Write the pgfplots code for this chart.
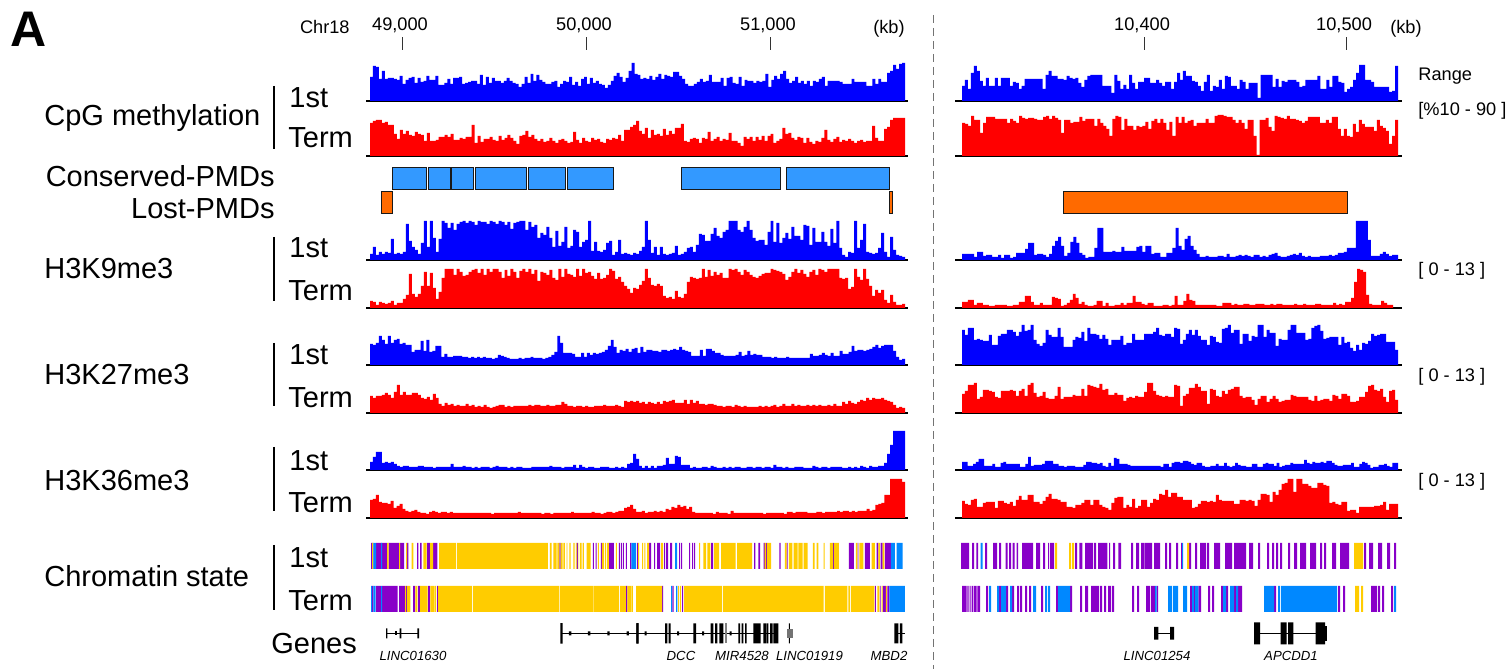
\documentclass[border=0pt]{standalone}
\usepackage{pgfplots}
\pgfplotsset{compat=1.18}
\usepackage{fontspec}
\setmainfont{Liberation Sans}
\definecolor{cpur}{HTML}{8800C8}
\definecolor{cyel}{HTML}{FFCC00}
\definecolor{cblu}{HTML}{0088FF}
\definecolor{pblu}{HTML}{3399FF}
\definecolor{pora}{HTML}{FF6A00}
\pgfplotsset{
 leftp/.style={xmin=366,xmax=908,width=271pt},
 rightp/.style={xmin=955,xmax=1402,width=223.5pt},
 trk/.style={scale only axis,height=21pt,ymin=0,ymax=42,axis y line=none,axis x line=bottom,
   xtick=\empty,axis line style={-,line width=0.7pt,black},anchor=south west,clip=false},
}
\newcommand\trackL[5]{\maketrack{leftp}{366}{#1}{#2}{#3}{#4}{#5}}
\newcommand\trackR[5]{\maketrack{rightp}{955}{#1}{#2}{#3}{#4}{#5}}
\newcommand\maketrack[7]{%
 \begin{axis}[trk,#1,at={({#2*0.5pt},{(669-#5)*0.5pt})}]
 \foreach \v [count=\n] in {#7}{\xdef\nbins{\n}\xdef\lastv{\v}}%
 \pgfmathsetmacro\binw{(#4-#3)/\nbins}%
 \xdef\binw{\binw}%
 \xdef\coordlist{(#3,0)}%
 \foreach \v [count=\n from 0] in {#7}{%
   \pgfmathsetmacro\xx{#3+\n*\binw}%
   \xdef\coordlist{\coordlist(\xx,\v)}}%
 \edef\tmp{\noexpand\addplot[const plot,fill=#6,draw=none] coordinates {\coordlist(#4,\lastv)(#4,0)};}\tmp
 \end{axis}}
% filled pulses, separated by jumps
\newcommand\seg[2]{%
 \xdef\coordlist{}%
 \foreach \a/\b in {#2}{\xdef\coordlist{\coordlist(\a,0)(\a,1)(\b,1)(\b,0)(\b,nan)}}%
 \edef\tmp{\noexpand\addplot[fill=#1,draw=none,unbounded coords=jump] coordinates {\coordlist};}\tmp}
\newcommand\exons[3][black]{%
 \xdef\coordlist{}%
 \foreach \a/\b in {#3}{\xdef\coordlist{\coordlist(\a,-#2)(\a,#2)(\b,#2)(\b,-#2)(\b,nan)}}%
 \edef\tmp{\noexpand\addplot[fill=#1,draw=none,unbounded coords=jump] coordinates {\coordlist};}\tmp}
\newcommand\intron[2]{\addplot[black,line width=0.55pt] coordinates {(#1,0)(#2,0)};}
\newcommand\pmd[3]{\addplot[fill=#1,draw=black!90,line width=0.5pt] coordinates {(#2,0)(#2,1)(#3,1)(#3,0)} -- cycle;}
\newenvironment{zoomaxis}[5]{%
 \begin{axis}[scale only axis,hide axis,anchor=south west,clip=false,
  at={({#1*0.5pt},{(669-#4)*0.5pt})},width={#2*0.5pt},height={(#4-#3)*0.5pt},
  xmin=0,xmax={3*#2},#5]}{\end{axis}}
\newcommand\lab[5]{\node[anchor=#3,inner sep=0pt,text=black] at ({#1*0.5pt},{(669-#2)*0.5pt}) {\fontsize{#4}{#4}\selectfont #5};}
\newcommand\vb[3]{\draw[black,line width=0.55pt] ({#1*0.5pt},{(669-#2)*0.5pt}) -- ({#1*0.5pt},{(669-#3)*0.5pt});}
\pgfplotsset{hdr/.style={scale only axis,anchor=south west,height=1pt,ymin=0,ymax=1,ytick=\empty,
 axis line style={draw=none},tick align=outside,xtick pos=upper,xticklabel pos=upper,scaled x ticks=false,
 major tick length=6.5pt,tick style={black!80,line width=0.5pt},
 /pgf/number format/assume math mode=true,/pgf/number format/1000 sep={,},
 xticklabel style={font=\fontsize{9.1pt}{9.1pt}\selectfont,xshift=-1pt,yshift=-1.5pt}}}
\begin{document}
\begin{tikzpicture}[x=1pt,y=1pt]
\path[use as bounding box] (0,0) rectangle (755pt,334.5pt);
% ---------- header axes
\begin{axis}[hdr,at={(183pt,{(669-52)*0.5pt})},width=271pt,xmin=48804.35,xmax=51750,xtick={49000,50000,51000}]
\end{axis}
\begin{axis}[hdr,at={(477.5pt,{(669-52)*0.5pt})},width=223.5pt,xmin=10306.4,xmax=10527.7,xtick={10400,10500}]
\end{axis}
% ---------- CpG methylation
\trackL{370}{905}{101}{blue}{24,35,34,22,30,22,23,23,22,21,25,17,21,23,24,18,23,19,20,25,21,21,25,16,16,18,22,17,23,23,24,17,18,19,20,20,17,26,16,24,18,23,20,20,18,20,23,20,18,17,14,17,24,18,27,20,26,21,19,17,17,19,20,14,17,20,19,24,16,19,15,22,24,17,23,18,20,17,16,13,16,20,25,28,24,19,23,30,38,27,26,22,23,22,25,21,24,27,22,26,25,24,29,29,25,22,17,15,15,17,19,22,19,20,26,19,19,19,23,15,23,24,18,17,24,15,21,20,20,18,20,19,20,27,14,21,25,22,27,30,22,18,20,24,18,20,17,20,15,20,19,22,24,15,20,20,20,20,19,17,17,17,22,19,19,19,19,15,15,22,17,22,19,19,28,30,36,32,37,38}
\trackL{370}{905}{156}{red}{33,35,36,36,33,34,31,31,22,17,26,22,25,21,20,24,22,21,15,23,15,15,16,19,19,21,19,22,16,16,18,17,19,19,31,13,20,14,17,17,19,16,15,20,16,18,21,18,15,12,20,21,25,19,21,17,15,17,14,15,18,15,13,16,17,15,13,14,24,16,13,18,15,14,18,16,17,14,13,17,16,18,17,21,15,26,26,29,31,35,25,22,28,18,26,21,22,20,27,21,25,22,28,28,32,15,14,17,18,17,13,18,17,24,15,17,19,15,17,16,23,15,15,13,10,19,17,19,15,19,16,20,15,20,22,13,15,17,28,22,23,18,16,19,18,13,18,14,12,15,14,18,26,16,14,17,19,14,16,15,17,15,13,15,16,14,15,15,30,18,15,15,27,29,36,38,38,38,38}
\trackR{962}{1398}{101}{blue}{15,21,12,28,35,30,20,15,23,15,15,23,15,23,23,23,15,19,18,12,15,22,22,22,22,22,22,12,26,30,25,25,22,22,21,25,23,22,23,18,14,21,25,26,26,26,26,15,15,15,8,26,20,12,16,12,26,18,12,19,19,23,23,18,18,21,18,15,19,19,12,19,28,21,30,25,25,20,19,15,10,19,26,10,15,14,21,12,25,24,15,15,12,21,19,12,18,18,18,3,26,26,26,26,14,22,14,20,19,21,21,21,19,14,15,21,21,21,21,25,12,12,21,14,25,25,19,18,9,12,14,21,28,36,36,21,21,19,14,14,14,14,14,9,10,35}
\trackR{962}{1398}{156}{red}{33,32,30,40,36,36,23,33,39,39,39,37,37,37,37,33,37,35,33,40,38,37,38,38,37,36,36,39,40,37,40,38,36,23,36,36,33,34,34,39,35,37,37,37,30,37,33,30,27,20,37,40,39,26,37,30,30,26,30,29,30,34,27,35,37,33,37,33,26,34,20,39,33,39,33,35,36,30,33,33,33,37,33,33,40,41,41,40,39,39,36,33,36,33,27,36,36,20,1,36,36,38,29,25,40,39,38,37,40,37,37,36,35,33,35,39,39,39,39,33,33,36,33,39,39,27,20,27,20,19,32,24,36,32,29,29,29,25,36,30,28,25,12,20,36}
% ---------- H3K9me3
\trackL{370}{905}{260}{blue}{6,13,5,8,6,8,7,21,6,7,6,8,36,19,13,10,6,17,39,13,39,22,8,21,39,37,32,37,30,36,38,39,37,39,38,35,39,38,38,36,39,38,36,39,38,35,38,31,37,38,39,39,30,38,33,35,22,27,25,33,22,13,29,14,18,33,12,14,30,28,13,18,20,39,9,18,9,8,10,17,19,5,8,20,6,7,6,5,7,6,9,13,39,20,7,13,5,13,6,5,6,7,14,5,6,8,12,13,8,15,26,25,19,19,26,32,24,22,28,30,39,39,39,30,28,33,39,30,22,19,20,20,15,28,39,18,37,17,22,27,21,33,24,24,20,35,34,15,32,18,18,28,18,14,31,17,39,12,5,3,8,7,39,12,20,36,8,7,6,7,12,27,8,3,23,10,5,4,3}
\trackL{370}{905}{308}{red}{7,6,3,6,5,4,5,7,3,5,5,9,13,34,14,11,14,22,36,22,35,20,9,16,30,39,39,39,33,39,36,32,33,36,38,39,35,39,33,39,36,39,39,36,30,38,32,39,36,30,37,39,36,39,34,38,27,36,35,33,38,30,28,39,31,39,34,33,31,39,32,39,35,36,32,29,35,29,30,33,39,37,29,31,26,22,19,15,20,19,23,27,39,30,23,22,24,22,12,10,11,9,17,11,10,14,26,31,30,29,30,39,31,38,32,36,33,35,30,30,39,38,39,36,33,38,36,33,31,30,32,34,35,35,39,38,37,36,34,28,31,36,39,35,38,34,31,36,38,33,39,38,36,39,39,39,39,30,29,30,19,21,39,31,28,39,29,22,12,18,15,18,8,5,13,6,3,3,4}
\trackR{962}{1398}{260}{blue}{6,6,6,6,3,8,8,4,5,5,3,3,5,2,5,5,2,3,7,7,7,11,17,17,5,6,6,5,3,6,14,19,23,14,4,7,18,23,17,7,5,2,3,3,12,32,32,8,8,8,9,8,8,13,9,9,9,9,13,14,8,14,14,6,7,7,3,3,7,7,12,32,14,10,21,24,14,10,6,3,3,4,3,3,3,4,4,3,6,3,3,4,5,4,5,4,3,5,5,3,4,3,5,6,7,4,3,3,4,5,6,5,7,4,3,4,3,3,3,4,4,4,5,4,5,7,7,8,12,12,12,39,39,39,39,20,4,4,4,6,8,6,4,5,5}
\trackR{962}{1393}{308}{red}{6,6,8,8,3,5,5,3,3,2,2,3,3,3,3,2,2,3,3,6,6,12,12,6,3,3,5,3,3,3,11,10,9,2,3,5,8,14,10,4,6,3,2,2,3,7,7,2,5,2,2,3,3,5,3,5,5,12,6,6,4,3,5,5,2,2,2,3,3,2,3,12,3,3,7,14,8,7,3,3,3,3,3,3,3,2,2,5,5,5,3,4,3,3,4,4,3,3,4,4,4,3,3,4,3,4,4,3,3,3,3,4,3,3,4,3,3,3,4,4,3,3,3,3,5,3,4,3,6,6,10,26,39,38,36,13,4,3,3,3,7,5,3,3}
% ---------- H3K27me3
\trackL{370}{905}{365}{blue}{21,20,22,29,25,21,29,22,25,26,21,22,20,20,13,15,15,24,14,25,13,14,19,19,8,11,8,8,9,9,9,8,8,7,8,7,8,7,8,7,7,6,7,10,9,8,7,6,6,6,7,6,7,7,8,7,7,7,6,7,8,10,13,29,22,12,12,12,11,8,8,12,8,12,10,12,11,12,13,15,19,25,18,12,15,14,16,13,16,17,12,18,13,15,15,14,14,13,15,15,14,15,16,15,18,15,14,13,9,9,9,15,9,16,16,14,12,12,10,9,9,9,9,10,13,9,10,14,10,11,10,10,8,8,8,7,8,7,7,7,8,7,7,7,7,7,7,7,11,9,9,10,12,10,9,12,9,9,14,11,11,13,19,14,15,15,14,15,16,18,20,17,19,20,20,20,14,8,5,6}
\trackL{370}{905}{413}{red}{17,15,17,17,18,20,18,15,21,28,18,21,18,18,20,20,18,15,14,16,13,19,15,9,7,10,8,9,7,8,7,7,9,7,8,6,7,6,8,6,5,6,7,8,8,6,7,6,7,7,7,7,7,8,7,8,8,7,7,8,7,7,8,8,11,9,7,7,6,7,7,6,7,6,6,7,7,7,8,7,7,7,8,7,6,12,11,12,11,12,10,11,9,11,10,9,11,9,12,11,12,13,10,10,10,13,9,13,10,12,9,9,8,9,9,8,7,7,6,7,7,6,8,7,6,7,6,6,6,6,7,6,7,6,7,8,6,7,9,7,7,9,7,8,7,7,8,7,8,7,8,7,7,8,7,9,7,7,11,9,12,10,9,11,13,12,15,13,15,14,14,15,13,12,11,8,5,6,5}
\trackR{962}{1398}{365}{blue}{35,30,37,37,25,26,25,24,24,30,20,20,29,31,31,35,35,33,29,33,40,34,35,40,25,21,19,22,35,30,28,28,37,28,18,18,18,25,28,27,33,24,37,31,31,30,26,30,26,20,25,25,25,29,20,22,22,31,25,25,25,31,31,31,33,37,30,29,31,31,28,37,36,21,25,31,35,30,35,29,25,25,20,29,28,23,22,36,37,40,32,35,35,21,31,31,24,29,28,40,40,28,35,32,32,19,26,25,25,35,40,40,32,32,32,25,26,37,39,40,34,26,27,28,28,28,20,28,22,23,17,14,20,15,22,21,24,31,29,30,31,31,23,23,23,15}
\trackR{962}{1398}{413}{red}{19,22,28,28,30,14,16,23,23,22,21,16,15,22,22,22,23,22,17,22,24,17,28,30,20,16,17,21,15,14,14,17,26,14,16,16,16,18,17,17,24,17,28,27,26,25,29,23,24,18,18,20,18,18,12,15,16,15,17,16,16,21,30,30,22,18,17,16,17,16,16,28,27,7,17,19,25,25,29,26,22,22,9,24,23,17,16,22,19,23,24,26,26,17,15,16,16,13,8,14,17,17,11,14,17,14,11,12,13,13,18,17,16,16,16,16,13,12,17,12,13,14,14,12,18,17,14,19,19,17,11,11,12,16,16,21,27,28,23,22,24,16,11,22,23,13}
% ---------- H3K36me3
\trackL{370}{905}{470}{blue}{8,13,18,18,7,8,7,8,6,4,3,4,4,3,3,3,4,4,3,3,3,2,3,3,3,3,3,6,3,3,3,4,3,3,2,3,2,3,3,3,2,3,4,3,3,3,2,3,2,3,3,2,2,2,3,3,3,3,3,3,4,3,3,3,2,3,3,3,5,2,5,3,2,3,3,2,2,3,3,3,2,2,3,2,3,2,6,7,16,11,4,2,4,2,4,2,4,4,5,12,6,6,14,13,5,5,5,2,3,2,2,3,3,2,4,3,2,2,3,2,3,2,3,3,2,2,3,3,2,3,3,2,3,3,2,5,3,3,2,3,2,2,3,3,3,2,2,2,4,3,2,3,3,2,3,3,3,3,2,2,3,2,3,2,4,3,2,4,3,3,4,4,7,16,25,39,39,39,39}
\trackL{370}{905}{518}{red}{18,19,23,16,15,15,14,17,10,12,14,9,7,6,7,8,6,5,5,4,6,7,6,5,6,6,5,6,5,5,5,5,5,5,5,5,5,5,5,5,5,4,5,5,5,5,5,5,5,5,6,5,5,5,5,5,5,5,4,5,5,4,5,5,5,5,5,5,6,5,5,5,5,5,5,6,5,5,4,5,6,6,5,6,7,7,10,11,13,9,6,6,7,5,6,6,7,6,7,6,9,8,11,10,13,11,12,9,11,6,5,5,5,5,5,5,4,6,5,5,5,4,7,5,5,5,5,5,5,5,5,5,5,4,5,5,5,5,5,5,4,6,6,5,6,6,6,6,5,5,5,6,6,5,6,6,6,6,7,6,7,7,6,7,6,7,7,7,9,7,8,13,14,15,23,23,39,39,39,39,36}
\trackR{962}{1398}{470}{blue}{8,8,4,4,6,8,11,11,4,4,4,6,3,3,7,8,6,6,6,6,6,3,3,6,13,4,5,5,5,6,9,9,9,6,6,4,4,3,4,4,4,3,3,3,5,8,8,7,7,6,7,4,3,7,4,12,11,6,6,6,5,4,4,4,4,4,4,4,4,4,4,4,3,6,6,3,7,8,8,7,9,9,8,6,5,7,7,4,3,3,4,4,6,4,4,7,4,3,4,7,5,4,4,3,3,6,6,3,3,6,7,6,6,4,7,3,4,5,5,7,6,6,6,6,10,7,6,8,7,7,8,7,9,9,7,5,4,4,5,5,5,7,3,3,6,8,7,5,2,3,3,5,5,6,4,3,7,7}
\trackR{962}{1398}{518}{red}{17,14,13,18,19,11,11,15,16,16,16,10,17,17,15,14,16,12,18,22,18,18,23,23,16,16,14,17,21,24,19,19,18,16,16,11,11,10,13,13,15,18,18,13,18,18,13,11,10,8,15,20,21,21,10,13,11,19,10,12,18,18,11,15,19,18,24,23,28,21,25,25,21,21,18,18,18,10,11,14,17,17,16,17,16,23,18,17,17,17,17,14,14,18,18,17,18,17,12,18,24,24,23,16,26,23,28,34,35,39,39,26,39,39,34,34,32,30,30,35,35,33,32,15,16,14,13,16,16,7,8,8,5,11,11,11,11,11,12,12,13,16,8,14,14,14}
% ---------- PMDs
\begin{axis}[scale only axis,hide axis,anchor=south west,clip=false,at={(183pt,{(669-190)*0.5pt})},leftp,height=11pt,ymin=0,ymax=1]
\pmd{pblu}{392.3}{426}\pmd{pblu}{428}{450}\pmd{pblu}{451.3}{473.7}\pmd{pblu}{475}{526.7}\pmd{pblu}{528.3}{565.7}\pmd{pblu}{567.3}{613.3}\pmd{pblu}{681}{780.7}\pmd{pblu}{786}{889.7}
\end{axis}
\begin{axis}[scale only axis,hide axis,anchor=south west,clip=false,at={(183pt,{(669-213.3)*0.5pt})},leftp,height=10.8pt,ymin=0,ymax=1]
\pmd{pora}{381.7}{392.3}\pmd{pora}{889.3}{892.7}
\end{axis}
\begin{axis}[scale only axis,hide axis,anchor=south west,clip=false,at={(477.5pt,{(669-213.3)*0.5pt})},rightp,height=10.8pt,ymin=0,ymax=1]
\pmd{pora}{1063.7}{1347}
\end{axis}
% ---------- chromatin state, left, 1st
\begin{zoomaxis}{360}{280}{543}{569}{ymin=0,ymax=1}
\seg{cpur}{33/40,48/81,86/117,120/132,141/145,171/175,180/185,201/210,219/232,598/602,650/654,699/702,707/710,723/726,747/762,777/780,783/786,789/792,798/801}
\seg{cyel}{36/39,81/86,117/120,138/141,155/160,190/200,210/219,237/288,291/564,570/575,580/590,592/598,602/608,610/615,620/622,628/632,640/644,648/650,654/655,660/665,668/672,680/692,714/717,726/732,735/738,741/747,768/771}
\seg{cblu}{40/48,63/66}
\end{zoomaxis}
\begin{zoomaxis}{630}{290}{543}{569}{ymin=0,ymax=1}
\seg{cpur}{0/4,21/24,57/63,72/75,81/90,102/105,108/114,120/126,147/150,153/156,177/180,186/189,192/195,243/249,372/376,385/390,401/405,408/411,448/452,470/473,609/612,657/672,683/685,705/720,740/745,752/758,765/783}
\seg{cyel}{24/27,36/39,43/46,51/57,93/99,207/210,220/228,232/241,252/267,273/317,321/366,404/408,411/423,465/470,477/487,491/503,505/518,521/533,549/554,560/565,581/584,600/609,612/627,678/682,688/700,725/735,745/750,758/763}
\seg{cblu}{4/18,135/141,783/795,800/818}
\end{zoomaxis}
% term
\begin{zoomaxis}{360}{280}{586}{612}{ymin=0,ymax=1}
\seg{cpur}{36/40,48/63,66/113,117/135,138/141,159/165,174/180,204/210,231/234,798/802}
\seg{cyel}{135/138,141/151,166/172,180/203,211/222,224/228,234/336,339/597,599/700,702/777,780/798,802/814,816/819}
\seg{cblu}{33/36,40/47,63/66}
\end{zoomaxis}
\begin{zoomaxis}{630}{290}{586}{612}{ymin=0,ymax=1}
\seg{cpur}{96/99,127/131,156/159,735/738,750/752,758/768,772/778}
\seg{cyel}{18/96,144/147,150/153,162/276,279/581,585/652,655/660,663/733,742/748,755/758,768/771}
\seg{cblu}{123/126,138/142,778/825}
\end{zoomaxis}
% right
\begin{zoomaxis}{950}{460}{543}{569}{ymin=0,ymax=1}
\seg{cpur}{33/57,66/72,79/84,105/111,129/141,147/153,167/173,177/183,188/194,200/204,216/249,258/270,279/285,294/297,300/312,375/381,388/397,405/429,432/438,444/472,477/480,489/495,505/513,543/549,558/567,573/582,584/606,612/630,645/651,657/663,678/684,693/696,717/723,735/741,750/768,771/777,792/810,825/846,852/888,897/909,924/930,951/957,966/972,978/984,990/996,1014/1020,1032/1041,1050/1068,1080/1098,1110/1116,1122/1128,1146/1158,1170/1197,1242/1248,1257/1269,1284/1296,1311/1320,1332/1338}
\seg{cyel}{315/321,357/363,366/372,711/717,1212/1239}
\seg{cblu}{92/98,696/699}
\end{zoomaxis}
\begin{zoomaxis}{950}{460}{586}{612}{ymin=0,ymax=1}
\seg{cpur}{36/50,52/56,59/62,65/70,72/80,82/90,108/114,147/153,168/174,186/192,201/207,210/216,225/231,237/243,273/279,318/324,360/366,390/396,405/414,423/447,450/456,462/468,474/483,486/492,546/552,561/567,588/600,603/615,620/624,720/726,732/735,745/753,774/780,786/792,813/819,828/834,852/858,864/876,972/978,1164/1170,1179/1185,1263/1281,1284/1290,1296/1302,1323/1329}
\seg{cyel}{1215/1227,1233/1239}
\seg{cblu}{117/123,141/147,153/168,180/186,249/258,285/291,294/300,324/360,615/620,654/666,669/684,699/711,726/732,735/745,819/828,840/852,858/864,942/972,984/990,993/1161,1332/1338}
\end{zoomaxis}
% ---------- genes (center line y=633.3)
\begin{zoomaxis}{360}{280}{620}{646.6}{ymin=-40,ymax=40}
\intron{80}{175}\exons{15}{78/82,119/124,172/177}\exons{6}{104/110}
\intron{603}{840}\exons{31}{601/608,829/836}\exons{6}{627/634,684/691,742/749,800/807}
\end{zoomaxis}
\begin{zoomaxis}{630}{290}{620}{646.6}{ymin=-40,ymax=40}
\intron{0}{445}\exons{30}{19/25,105/112,116/122,190/198,242/250,255/262,268/280,325/330,335/340,345/350,370/392,400/408,410/415,420/428,430/440,440/445,477/480,793/805,810/817}
\exons[black!50]{30}{285/290}
\exons{6}{44/50,141/147,216/222,299/305}\exons[black!55]{14}{470/490}\intron{805}{825}
\end{zoomaxis}
\begin{zoomaxis}{950}{460}{620}{646.6}{ymin=-40,ymax=40}
\intron{612}{672}\exons{19}{612/625,660/672}
\intron{915}{1130}\exons{33}{912/930,992/1010,1014/1030,1097/1125}\exons{22}{1125/1132}
\end{zoomaxis}
% ---------- text
\lab{10}{47}{base west}{25pt}{\bfseries A}
\lab{350}{34}{base east}{9.1pt}{Chr18}
\lab{905}{34}{base east}{9.1pt}{(kb)}
\lab{1422}{34}{base east}{9.1pt}{(kb)}
\lab{1418}{81}{base west}{9.1pt}{Range}
\lab{1418}{116}{base west}{9.1pt}{[\%10 - 90 ]}
\lab{1418}{276}{base west}{9.1pt}{[ 0 - 13 ]}
\lab{1418}{382}{base west}{9.1pt}{[ 0 - 13 ]}
\lab{1418}{487}{base west}{9.1pt}{[ 0 - 13 ]}
\lab{44}{126}{base west}{14.5pt}{CpG methylation}
\lab{275}{187}{base east}{14.5pt}{Conserved-PMDs}
\lab{275}{219}{base east}{14.5pt}{Lost-PMDs}
\lab{44}{279}{base west}{14.5pt}{H3K9me3}
\lab{44}{385}{base west}{14.5pt}{H3K27me3}
\lab{44}{491}{base west}{14.5pt}{H3K36me3}
\lab{44}{587}{base west}{14.5pt}{Chromatin state}
\lab{271}{654}{base west}{14.5pt}{Genes}
\lab{289}{108}{base west}{14.5pt}{1st}\lab{288}{148}{base west}{14.5pt}{Term}
\lab{289}{258}{base west}{14.5pt}{1st}\lab{288}{301}{base west}{14.5pt}{Term}
\lab{289}{365}{base west}{14.5pt}{1st}\lab{288}{408}{base west}{14.5pt}{Term}
\lab{289}{471}{base west}{14.5pt}{1st}\lab{288}{513}{base west}{14.5pt}{Term}
\lab{289}{568}{base west}{14.5pt}{1st}\lab{288}{611}{base west}{14.5pt}{Term}
\vb{274}{86}{149}\vb{274}{237}{301}\vb{274}{343}{406}\vb{274}{447}{511}\vb{274}{545}{610}
\draw[black!55,line width=0.5pt,dash pattern=on 4pt off 2.5pt] ({933*0.5pt},{(669-15)*0.5pt}) -- ({933*0.5pt},0);
\foreach \nm/\cx in {LINC01630/413,DCC/681,MIR4528/742,LINC01919/809.5,MBD2/889,LINC01254/1157,APCDD1/1291}{
 \lab{\cx}{661}{base}{6.6pt}{\itshape \nm}}
\end{tikzpicture}
\end{document}
